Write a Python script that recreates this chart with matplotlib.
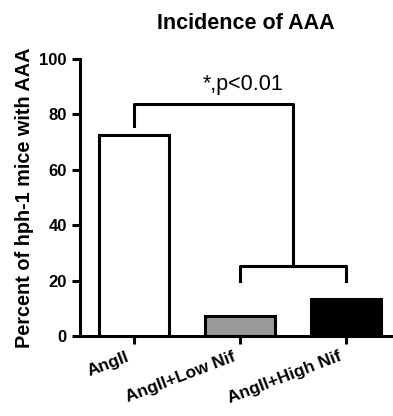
import matplotlib.pyplot as plt
import matplotlib.transforms as mtransforms

plt.rcParams['font.family'] = ['Liberation Sans', 'DejaVu Sans']
plt.rcParams['font.weight'] = 'bold'

groups = ['AngII', 'AngII+Low Nif', 'AngII+High Nif']
incidence = [72.5, 7.3, 13.2]
bar_colors = ['white', '#999999', 'black']

fig = plt.figure(figsize=(3.93, 4.16), dpi=100)
ax = fig.add_axes([0.2036, 0.1923, 0.7964, 0.6657])

x = range(len(groups))
ax.bar(x, incidence, width=0.66, color=bar_colors, edgecolor='black', linewidth=2.2, zorder=3)

ax.set_xlim(-0.51, 2.44)
ax.set_ylim(0, 100)
ax.set_yticks([0, 20, 40, 60, 80, 100])
ax.set_xticks(list(x))
ax.set_xticklabels(groups, rotation=21, ha='right', rotation_mode='anchor', fontsize=12.5, fontweight='bold')
ax.tick_params(axis='y', labelsize=12, width=2.2, length=6)
ax.tick_params(axis='x', width=2.2, length=6)
for lbl in ax.get_yticklabels():
    lbl.set_fontweight('bold')
shift = mtransforms.ScaledTranslation(-6 / 72, 0, fig.dpi_scale_trans)
for lbl in ax.get_xticklabels():
    lbl.set_transform(lbl.get_transform() + shift)

for s in ['top', 'right']:
    ax.spines[s].set_visible(False)
for s in ['left', 'bottom']:
    ax.spines[s].set_linewidth(2.2)

ax.set_ylabel('Percent of hph-1 mice with AAA', fontsize=14.3, fontweight='bold', labelpad=4)
ax.set_title('Incidence of AAA', fontsize=15.5, fontweight='bold', pad=22, x=0.53)

# significance brackets
lw = 2.2
ax.plot([1, 1, 2, 2], [20, 25.3, 25.3, 20], color='black', lw=lw, clip_on=False)
ax.plot([0, 0, 1.5, 1.5], [76, 83.8, 83.8, 25.3], color='black', lw=lw, clip_on=False)
ax.text(1.03, 89, '*,p<0.01', ha='center', va='baseline', fontsize=15.5, fontweight='normal')

fig.savefig('out.png', dpi=100)
